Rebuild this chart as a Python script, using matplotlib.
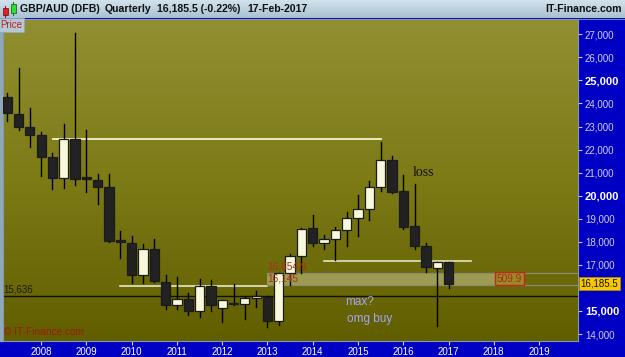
import numpy as np
import matplotlib
matplotlib.use('Agg')
import matplotlib.pyplot as plt
from matplotlib.patches import Rectangle
from matplotlib.colors import LinearSegmentedColormap
import matplotlib.transforms as mtransforms

# quarterly candles GBP/AUD, 2007Q2 .. 2017Q1
years = [2007]*3 + [y for y in range(2008, 2017) for _ in range(4)] + [2017]
quarters = [2, 3, 4] + [1, 2, 3, 4]*9 + [1]
opens = [24270, 23530, 22970, 22620, 21680, 20770, 22450, 20800, 20690, 20390,
         18080, 17940, 16550, 17700, 16270, 15250, 15510, 14990, 16080, 15120,
         15320, 15290, 15550, 15620, 14580, 16635, 17385, 18610, 17940, 18120,
         18510, 19020, 19420, 20360, 21550, 20200, 18690, 17830, 16850, 17110]
highs = [24440, 25530, 23790, 22750, 21870, 23110, 27050, 22850, 20940, 20940,
         18480, 18270, 17890, 18110, 16550, 16460, 15770, 16370, 16330, 15470,
         16180, 15610, 15870, 15640, 16650, 17470, 18610, 19160, 18300, 18660,
         19310, 20030, 20640, 22320, 21720, 20900, 20510, 17940, 17110, 17125]
lows = [23250, 22850, 22130, 20870, 20280, 20350, 20450, 20170, 19640, 18000,
        17290, 16200, 16200, 16270, 15090, 15100, 14840, 14730, 14990, 14540,
        15250, 14670, 15160, 14320, 14390, 16130, 16660, 17820, 17690, 17210,
        17830, 18270, 18950, 20220, 20100, 18540, 17700, 16700, 14350, 15980]
closes = [23600, 22970, 22620, 21670, 20780, 22450, 20710, 20710, 20390, 18050,
          17980, 16550, 17700, 16300, 15250, 15510, 14990, 16080, 15250, 15460,
          15320, 15550, 15640, 14580, 16635, 17385, 18540, 17940, 18120, 18510,
          19020, 19420, 20360, 21550, 20170, 18660, 17830, 16900, 17110, 16185.5]

last_price = 16185.5
support_level = 15636
band_top = 16654.9
band_bottom = 16145
year_ticks = list(range(2008, 2020))
# 16,000 is hidden behind the last-price flag
price_ticks = [14000, 15000] + list(range(17000, 28000, 1000))
bold_ticks = [15000, 20000, 25000]

x = np.array(years) + (np.array(quarters) - 1) * 0.25

fig = plt.figure(figsize=(6.25, 3.57), dpi=100)
fig.patch.set_facecolor('#0000c4')

# background / frame in pixel coordinates
bg = fig.add_axes([0, 0, 1, 1])
bg.set_xlim(0, 625)
bg.set_ylim(357, 0)
bg.axis('off')
bg.set_zorder(0)
hdr = LinearSegmentedColormap.from_list('hdr', ['#d4e4ee', '#a8c2d2'])
bg.imshow(np.linspace(0, 1, 50).reshape(-1, 1), cmap=hdr, aspect='auto',
          extent=[0, 625, 18.5, 0], zorder=1)
bg.plot([0, 625], [18.5, 18.5], color='#6f8898', lw=0.8, zorder=2)
bg.add_patch(Rectangle((0, 18.5), 2.5, 322.5, color='#90a8b8', zorder=2))
# small candle icon
bg.plot([5, 5], [6, 17], color='#b00000', lw=0.7, zorder=3)
bg.add_patch(Rectangle((2.5, 8), 5, 7, facecolor='#e02020', edgecolor='#800000', lw=0.5, zorder=4))
bg.plot([13, 13], [2, 15], color='#008000', lw=0.7, zorder=3)
bg.add_patch(Rectangle((10.5, 4), 5, 9, facecolor='#30e030', edgecolor='#006000', lw=0.5, zorder=4))
for tx, txt in [(20, 'GBP/AUD (DFB)'), (105, 'Quarterly'), (157, '16,185.5 (-0.22%)'),
                (247, '17-Feb-2017')]:
    bg.text(tx, 9.5, txt, fontsize=7.6, fontweight='bold', color='#101010',
            va='center', ha='left', family='Liberation Sans', zorder=4)
bg.text(622, 9.5, 'IT-Finance.com', fontsize=7.6, fontweight='bold', color='#101010',
        va='center', ha='right', family='Liberation Sans', zorder=4)

# main chart
ax = fig.add_axes([2.5/625, 16/357, 575.5/625, 322/357])
ax.set_zorder(1)
ax.set_facecolor('none')
ax.set_xlim(2007.146, 2019.861)
ax.set_ylim(13698, 27664)
olive = LinearSegmentedColormap.from_list('olive', ['#615e00', '#7c7b16', '#928f32'])
ax.imshow(np.linspace(0, 1, 200).reshape(-1, 1), cmap=olive, origin='lower',
          aspect='auto', extent=[0, 1, 0, 1], transform=ax.transAxes, zorder=0)

# trend / reference lines
ax.plot([2008.27, 2015.5], [22446, 22446], color='#f4f4cc', lw=1.3, zorder=2)
ax.plot([2009.75, 2013.0], [16084, 16084], color='#e8e8cc', lw=1.2, zorder=2)
ax.plot([2014.25, 2017.5], [17180, 17180], color='#e4e4c4', lw=1.2, zorder=2)
ax.axhline(support_level, color='#101000', lw=1.0, zorder=2)

# band
ax.add_patch(Rectangle((2013.0, band_bottom), 2018.05 - 2013.0, band_top - band_bottom,
                       facecolor='#ffffe0', alpha=0.34, edgecolor='none', zorder=2))
ax.plot([2013.0, 2019.861], [band_top, band_top], color='#8a8a78', lw=0.9, zorder=2)
ax.plot([2013.0, 2019.861], [band_bottom, band_bottom], color='#8a8a78', lw=0.9, zorder=2)
ax.text(2013.0, band_top + 40, '16,654.9', color='#a8301c', fontsize=7.3,
        family='Liberation Sans', ha='left', va='bottom', zorder=6)
ax.text(2013.0, 16390, '16,145', color='#a8301c', fontsize=7.3,
        family='Liberation Sans', ha='left', va='center', zorder=6)
ax.text(2018.35, (band_top + band_bottom) / 2, '%.1f' % (band_top - band_bottom),
        color='#b02818', fontsize=7.3, family='Liberation Sans', ha='center', va='center',
        zorder=6, bbox=dict(boxstyle='square,pad=0.15', facecolor='#9a8a2a',
                            edgecolor='#c02818', lw=1.0))

# candles
w = 0.205
for xi, o, h, l, c in zip(x, opens, highs, lows, closes):
    up = c >= o
    ax.plot([xi, xi], [l, h], color='#000000', lw=1.0, zorder=3)
    bot = min(o, c)
    hgt = max(abs(c - o), 40)
    ax.add_patch(Rectangle((xi - w/2, bot), w, hgt,
                           facecolor='#f8f8dc' if up else '#222222',
                           edgecolor='#1a1a1a', lw=0.9, zorder=4))

# annotations
ax.text(2016.22, 21000, 'loss', family='Liberation Serif', fontsize=10,
        color='#101010', ha='left', va='center', zorder=6)
ax.text(2014.71, 15403, 'max?', family='Liberation Sans', fontsize=8.5,
        color='#a4a4f4', ha='left', va='center', zorder=6)
ax.text(2014.75, 14640, 'omg buy', family='Liberation Sans', fontsize=8.5,
        color='#a4a4f4', ha='left', va='center', zorder=6)
trans = mtransforms.blended_transform_factory(ax.transAxes, ax.transData)
ax.text(0.002, support_level + 60, '15,636', transform=trans, fontsize=7,
        color='#1c1c00', family='Liberation Sans', ha='left', va='bottom', zorder=6)
ax.text(0.002, 0.012, '\u00a9 IT-Finance.com', transform=ax.transAxes, fontsize=7.3,
        color='#a01810', family='Liberation Sans', ha='left', va='bottom', zorder=6)
ax.text(-0.004, 0.998, 'Price', transform=ax.transAxes, fontsize=7, color='#c02020',
        family='Liberation Sans', ha='left', va='top', zorder=7,
        bbox=dict(boxstyle='square,pad=0.2', facecolor='#b4c8d6', edgecolor='#90a8b8', lw=0.6))

# last price flag
ax.text(1.0045, last_price, '16,185.5', transform=trans, fontsize=7, color='#101010',
        family='Liberation Sans', ha='left', va='center', zorder=8, clip_on=False,
        bbox=dict(boxstyle='square,pad=0.15', facecolor='#f8c800', edgecolor='#b08800', lw=0.6))

# axes
ax.yaxis.tick_right()
ax.set_yticks(price_ticks)
ax.set_yticklabels(['{:,}'.format(p) for p in price_ticks])
for p, lab in zip(price_ticks, ax.get_yticklabels()):
    lab.set_family('Liberation Sans')
    if p in bold_ticks:
        lab.set_fontweight('bold')
        lab.set_fontsize(8)
        lab.set_color('white')
    else:
        lab.set_fontsize(7)
        lab.set_color('#d0d0ec')
ax.tick_params(axis='y', length=3, color='#c8c8e8', pad=2)
ax.set_xticks(year_ticks)
ax.set_xticklabels([str(y) for y in year_ticks], fontsize=7, color='white',
                   family='Liberation Sans')
ax.tick_params(axis='x', length=3, color='#d0d0f0', pad=1.5)
for s in ax.spines.values():
    s.set_color('#8898a8')
    s.set_linewidth(0.8)

fig.savefig('out.png', dpi=100, facecolor=fig.get_facecolor())
